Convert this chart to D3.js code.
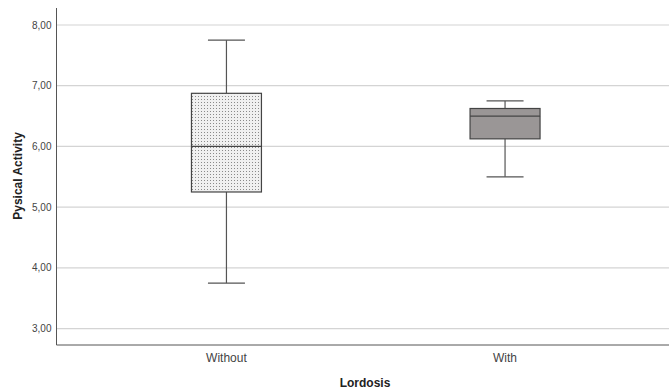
<!DOCTYPE html>
<html lang="en">
<head>
<meta charset="UTF-8">
<title>Pysical Activity by Lordosis</title>
<script src="https://d3js.org/d3.v7.min.js"></script>
<style>
  body { margin: 0; background: #fff; }
  text { font-family: Arial, "Liberation Sans", sans-serif; }
</style>
</head>
<body>
<div id="chart"></div>
<script>
// data
const groups = ["Without", "With"];
const mins    = [3.75, 5.50];
const q1s     = [5.25, 6.125];
const medians = [6.00, 6.50];
const q3s     = [6.875, 6.625];
const maxs    = [7.75, 6.75];
const yTicks  = [3, 4, 5, 6, 7, 8];

const width = 669, height = 392;
const mLeft = 56.5, mTop = 8, mBottom = 345;

const svg = d3.select("#chart").append("svg")
  .attr("width", width).attr("height", height);

const defs = svg.append("defs");
const pat = defs.append("pattern")
  .attr("id", "dots").attr("patternUnits", "userSpaceOnUse")
  .attr("width", 3).attr("height", 3);
pat.append("rect").attr("width", 3).attr("height", 3).attr("fill", "#f0f0f0");
pat.append("rect").attr("width", 1).attr("height", 1).attr("fill", "#8a8a8a");

const y = d3.scaleLinear().domain([2.73, 8.28]).range([mBottom, mTop]);
const x = d3.scalePoint().domain(groups).range([mLeft, 675]).padding(0.61);

// gridlines
svg.append("g").selectAll("line").data(yTicks).join("line")
  .attr("x1", mLeft).attr("x2", width)
  .attr("y1", d => y(d)).attr("y2", d => y(d))
  .attr("stroke", "#d4d4d4").attr("stroke-width", 1.2);

// y axis labels
svg.append("g").selectAll("text").data(yTicks).join("text")
  .attr("x", mLeft - 5).attr("y", d => y(d)).attr("dy", "0.35em")
  .attr("text-anchor", "end").attr("font-size", 10).attr("fill", "#444")
  .text(d => d3.format(".2f")(d).replace(".", ","));

// axis lines
svg.append("line").attr("x1", mLeft).attr("x2", mLeft).attr("y1", mTop).attr("y2", mBottom)
  .attr("stroke", "#555").attr("stroke-width", 1);
svg.append("line").attr("x1", mLeft).attr("x2", width).attr("y1", mBottom).attr("y2", mBottom)
  .attr("stroke", "#555").attr("stroke-width", 1);

const boxW = 70, capW = 37;
const boxes = groups.map((g, i) => ({
  g, min: mins[i], q1: q1s[i], med: medians[i], q3: q3s[i], max: maxs[i],
  fill: i === 0 ? "url(#dots)" : "#9a9696"
}));

const b = svg.append("g").selectAll("g").data(boxes).join("g");

// whiskers
b.append("line").attr("x1", d => x(d.g)).attr("x2", d => x(d.g))
  .attr("y1", d => y(d.max)).attr("y2", d => y(d.q3))
  .attr("stroke", "#555").attr("stroke-width", 1.2);
b.append("line").attr("x1", d => x(d.g)).attr("x2", d => x(d.g))
  .attr("y1", d => y(d.q1)).attr("y2", d => y(d.min))
  .attr("stroke", "#555").attr("stroke-width", 1.2);
b.selectAll(".cap").data(d => [d.min, d.max].map(v => ({ g: d.g, v }))).join("line")
  .attr("x1", d => x(d.g) - capW / 2).attr("x2", d => x(d.g) + capW / 2)
  .attr("y1", d => y(d.v)).attr("y2", d => y(d.v))
  .attr("stroke", "#555").attr("stroke-width", 1.2);

// box
b.append("rect")
  .attr("x", d => x(d.g) - boxW / 2).attr("width", boxW)
  .attr("y", d => y(d.q3)).attr("height", d => y(d.q1) - y(d.q3))
  .attr("fill", d => d.fill).attr("stroke", "#444").attr("stroke-width", 1.2);
b.append("line")
  .attr("x1", d => x(d.g) - boxW / 2).attr("x2", d => x(d.g) + boxW / 2)
  .attr("y1", d => y(d.med)).attr("y2", d => y(d.med))
  .attr("stroke", "#444").attr("stroke-width", 1.2);

// x labels
svg.append("g").selectAll("text").data(groups).join("text")
  .attr("x", d => x(d)).attr("y", 362)
  .attr("text-anchor", "middle").attr("font-size", 12).attr("fill", "#444")
  .text(d => d);

// axis titles
svg.append("text").attr("x", 365).attr("y", 387).attr("text-anchor", "middle")
  .attr("font-size", 12).attr("font-weight", "bold").attr("fill", "#222").text("Lordosis");
svg.append("text").attr("transform", "translate(22,176) rotate(-90)")
  .attr("text-anchor", "middle").attr("font-size", 12).attr("font-weight", "bold")
  .attr("fill", "#222").text("Pysical Activity");
</script>
</body>
</html>
